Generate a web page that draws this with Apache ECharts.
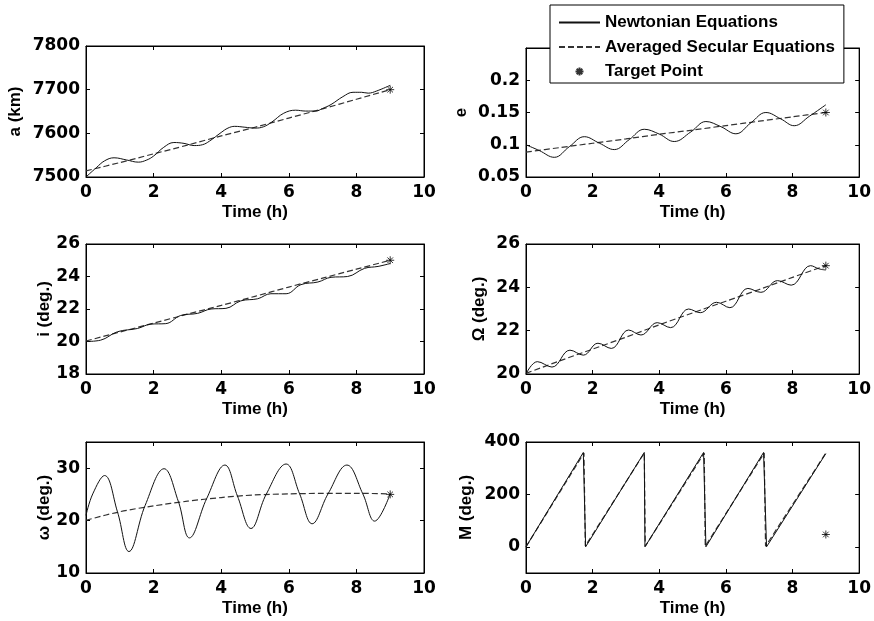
<!DOCTYPE html>
<html><head><meta charset="utf-8">
<script src="https://cdn.jsdelivr.net/npm/echarts@6/dist/echarts.min.js"></script>
<style>html,body{margin:0;padding:0;background:#fff}#c{width:874px;height:621px}</style>
</head><body><div id="c"></div><script>
// ---------- data ----------
const seriesNames = ['Newtonian Equations', 'Averaged Secular Equations', 'Target Point'];
const xAxisName = 'Time (h)';
const yNames = ['a (km)', 'e', 'i (deg.)', 'Ω (deg.)', 'ω (deg.)', 'M (deg.)'];

const aNewton = [[0,7500],[0.3,7521],[0.55,7537],[0.83,7544],[1.2,7539],[1.55,7534],[1.8,7539],[2.0,7548],[2.3,7568],[2.6,7579],[2.9,7577],[3.2,7572],[3.45,7574],[3.65,7582],[4.0,7602],[4.2,7612],[4.4,7616],[4.7,7614],[5.0,7612],[5.25,7615],[5.5,7626],[5.85,7646],[6.2,7653],[6.5,7651],[6.8,7651],[7.0,7657],[7.25,7666],[7.6,7684],[7.9,7694],[8.15,7694],[8.35,7692],[8.6,7697],[9.0,7710]];
const aAvg = [[0,7514],[1,7533],[2,7553],[3,7573],[4,7594],[5,7614],[6,7635],[7,7656],[8,7678],[9,7700]];
const aTarget = [[9,7700]];

const eNewton = [[0,0.100],[0.4,0.091],[0.85,0.0805],[1.3,0.097],[1.75,0.1125],[2.2,0.1025],[2.65,0.0925],[3.1,0.108],[3.55,0.124],[4.0,0.1165],[4.45,0.105],[4.95,0.120],[5.4,0.136],[5.85,0.128],[6.3,0.117],[6.75,0.134],[7.2,0.150],[7.65,0.140],[8.05,0.1295],[8.5,0.144],[9.0,0.162]];
const eAvg = [[0,0.0886],[1,0.0955],[2,0.1023],[3,0.109],[4,0.1163],[5,0.1228],[6,0.1297],[7,0.1365],[8,0.1433],[9,0.150]];
const eTarget = [[9,0.15]];

const iNewton = [[0,20.0],[0.43,20.08],[0.93,20.6],[1.52,20.8],[1.92,21.07],[2.36,21.1],[2.8,21.6],[3.3,21.73],[3.7,22.0],[4.14,22.04],[4.58,22.5],[5.08,22.63],[5.47,22.94],[5.92,22.94],[6.36,23.5],[6.86,23.66],[7.25,23.95],[7.74,24.0],[8.24,24.5],[8.64,24.62],[9.0,24.8]];
const iAvg = [[0,20.03],[1,20.58],[2,21.13],[3,21.68],[4,22.22],[5,22.78],[6,23.35],[7,23.9],[8,24.45],[9,25.0]];
const iTarget = [[9,25]];

const raanNewton = [[0,20.0],[0.34,20.57],[0.78,20.32],[1.32,21.1],[1.72,20.87],[2.16,21.42],[2.56,21.18],[3.08,22.03],[3.45,21.8],[3.94,22.37],[4.34,22.14],[4.88,23.0],[5.23,22.83],[5.72,23.31],[6.12,23.06],[6.66,23.95],[7.05,23.77],[7.55,24.31],[7.96,24.1],[8.54,25.0],[8.8,24.85],[9.0,24.8]];
const raanAvg = [[0,20.03],[1,20.6],[2,21.15],[3,21.7],[4,22.27],[5,22.82],[6,23.36],[7,23.9],[8,24.46],[9,25.0]];
const raanTarget = [[9,25]];

const argpNewton = [[0,21.0],[0.2,25.1],[0.55,28.6],[0.93,21.7],[1.27,14.1],[1.75,22.9],[2.31,29.9],[2.73,23.7],[3.06,16.7],[3.57,24.2],[4.11,30.6],[4.48,24.7],[4.88,18.5],[5.33,25.0],[5.92,30.8],[6.32,25.1],[6.69,19.4],[7.16,25.1],[7.72,30.6],[8.19,25.1],[8.54,19.9],[9.0,25.1]];
const argpAvg = [[0,20.06],[1,21.7],[2,22.8],[3,23.7],[4,24.4],[5,24.9],[6,25.1],[7,25.2],[8,25.2],[9,25.1]];
const argpTarget = [[9,25]];

const mNewton = [[0,0],[1.72,360],[1.79,0],[3.55,360],[3.57,0],[5.33,360],[5.4,0],[7.13,360],[7.22,0],[9.0,356]];
const mAvg = [[0,0],[1.74,358],[1.78,3],[3.55,358],[3.58,2],[5.35,358],[5.38,2],[7.15,358],[7.19,2],[9.0,358]];
const mTarget = [[9,47]];

const xRange = [0, 10], xStep = 2;
const yRanges = [[7500,7800,100],[0.05,0.25,0.05],[18,26,2],[20,26,2],[10,35,10],[-100,400,200]];
const mTicks = [0, 200, 400];

// ---------- layout / style ----------
const grids = [
  {left:86, top:46, width:338, height:131},
  {left:526, top:48, width:337, height:129},
  {left:86, top:244, width:338, height:130},
  {left:526, top:244, width:337, height:130},
  {left:86, top:442, width:338, height:131},
  {left:526, top:442, width:337, height:131}
];
const yNameGaps = [62, 56, 32, 38, 32, 51];
const newtonSets = [aNewton, eNewton, iNewton, raanNewton, argpNewton, mNewton];
const avgSets = [aAvg, eAvg, iAvg, raanAvg, argpAvg, mAvg];
const targetSets = [aTarget, eTarget, iTarget, raanTarget, argpTarget, mTarget];

const fmt = v => String(+Number(v).toPrecision(10));
const tickFont = {fontFamily:'DejaVu Sans', fontWeight:'bold', fontSize:17, color:'#000', formatter:fmt};
const nameFont = {fontFamily:'Liberation Sans, Arial', fontWeight:'bold', fontSize:17, color:'#000'};
const starPath = 'path://M5,0 L5,10 M0,5 L10,5 M1.5,1.5 L8.5,8.5 M8.5,1.5 L1.5,8.5';
const starLegend = 'path://M0,0 M14,14 M7,3 L7,11 M3,7 L11,7 M4.2,4.2 L9.8,9.8 M9.8,4.2 L4.2,9.8';

const xAxes = [], yAxes = [], series = [];
grids.forEach((g, k) => {
  const common = {min:xRange[0], max:xRange[1], interval:xStep, gridIndex:k,
    axisLine:{show:true, onZero:false, lineStyle:{color:'#000', width:1}},
    axisTick:{show:true, inside:true, length:4, lineStyle:{color:'#000'}},
    splitLine:{show:false}};
  xAxes.push(Object.assign({}, common, {type:'value', position:'bottom',
    name:xAxisName, nameLocation:'middle', nameGap:27, nameTextStyle:nameFont,
    axisLabel:Object.assign({margin:7}, tickFont)}));
  xAxes.push(Object.assign({}, common, {type:'value', position:'top', axisLabel:{show:false}}));
  const [ymin, ymax, yint] = yRanges[k];
  const yc = {type:'value', min:ymin, max:ymax, interval:yint, gridIndex:k,
    axisLine:{show:true, onZero:false, lineStyle:{color:'#000', width:1}},
    axisTick:{show:true, inside:true, length:4, lineStyle:{color:'#000'}},
    splitLine:{show:false}};
  if (k === 5) {
    yc.interval = 100;
    yc.axisTick.customValues = mTicks;
  }
  const yl = Object.assign({}, yc, {position:'left', name:yNames[k], nameLocation:'middle',
    nameGap:yNameGaps[k], nameTextStyle:nameFont,
    axisLabel:Object.assign({margin:6, showMaxLabel:!(k===1||k===4)}, tickFont)});
  if (k === 5) yl.axisLabel.customValues = mTicks;
  yAxes.push(yl);
  yAxes.push(Object.assign({}, yc, {position:'right', axisLabel:{show:false}}));
  const xi = 2*k, yi = 2*k;
  series.push({type:'line', name:seriesNames[0], xAxisIndex:xi, yAxisIndex:yi, data:newtonSets[k],
    smooth: k===5 ? false : 0.4, symbol:'none', itemStyle:{color:'#000'},
    lineStyle:{color:'#111', width:1}, z:3});
  series.push({type:'line', name:seriesNames[1], xAxisIndex:xi, yAxisIndex:yi, data:avgSets[k],
    smooth: k===5 ? false : 0.3, symbol:'none', itemStyle:{color:'#000'},
    lineStyle:{color:'#333', width:1.2, type:[6,3]}, z:2});
  series.push({type:'scatter', name:seriesNames[2], xAxisIndex:xi, yAxisIndex:yi, data:targetSets[k],
    symbol:starPath, symbolSize:8, itemStyle:{color:'#000', borderColor:'#000', borderWidth:1}, z:4});
});

const hiddenDot = {color:'rgba(0,0,0,0)', borderWidth:0, opacity:0};
const chart = echarts.init(document.getElementById('c'), null, {renderer:'canvas'});
chart.setOption({
  animation:false,
  backgroundColor:'#fff',
  grid: grids.map(g => Object.assign({show:true, borderColor:'#000', borderWidth:1, backgroundColor:'#fff'}, g)),
  xAxis: xAxes,
  yAxis: yAxes,
  legend: {
    orient:'vertical', left:550, top:5, z:10,
    backgroundColor:'#fff', borderColor:'#000', borderWidth:1,
    padding:[9, 9, 3, 8], itemGap:7.5, itemWidth:41, itemHeight:14,
    textStyle:{fontFamily:'Liberation Sans, Arial', fontWeight:'bold', fontSize:17, color:'#000'},
    data:[{name:seriesNames[0], itemStyle:hiddenDot}, {name:seriesNames[1], itemStyle:hiddenDot},
          {name:seriesNames[2], icon:starLegend}]
  },
  series: series
});
</script></body></html>
